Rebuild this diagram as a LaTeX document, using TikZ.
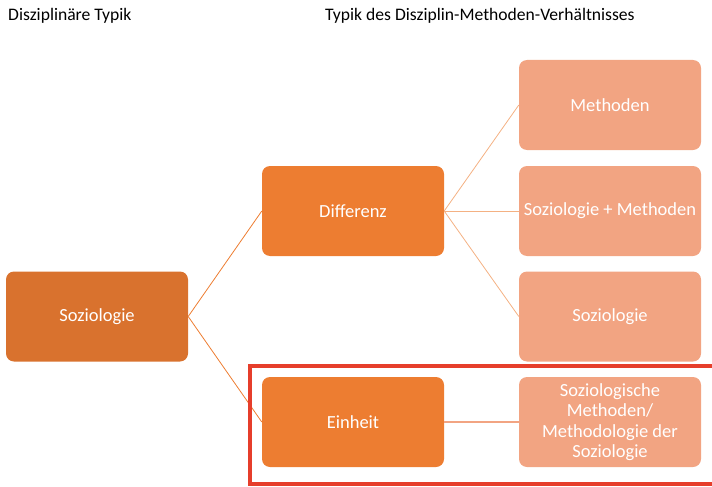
\documentclass[tikz,border=0pt]{standalone}
\usepackage{fontspec}
\setmainfont{Carlito}
\definecolor{darkor}{HTML}{D9722E}
\definecolor{midor}{HTML}{ED7D31}
\definecolor{lightor}{HTML}{F2A482}
\definecolor{lineor}{HTML}{F4B183}
\definecolor{redframe}{HTML}{E63E2B}
\begin{document}
\begin{tikzpicture}[x=1pt,y=-1pt,
  box/.style={rounded corners=8pt, minimum width=182pt, minimum height=90pt, text=white, font=\fontsize{18.5}{20.5}\selectfont, align=center, inner sep=1pt},
  lvlone/.style={box, fill=darkor},
  lvltwo/.style={box, fill=midor},
  lvlthree/.style={box, fill=lightor},
  title/.style={anchor=west, font=\fontsize{17.6}{20}\selectfont, inner sep=0pt},
  conA/.style={draw=midor, line width=0.8pt},
  conB/.style={draw=lineor, line width=0.8pt},
  conC/.style={draw=lightor, line width=1.4pt}]
\useasboundingbox (0,0) rectangle (712,487);
\node[title] (t1) at (8,16) {Disziplinäre Typik};
\node[title] (t2) at (325,16) {Typik des Disziplin-Methoden-Verhältnisses};
\node[lvlone] (soz) at (97,316.5) {Soziologie};
\node[lvltwo] (diff) at (353,211) {Differenz};
\node[lvltwo] (ein) at (353,422) {Einheit};
\node[lvlthree] (r1) at (610,105) {Methoden};
\node[lvlthree] (r2) at (610,211) {Soziologie + Methoden};
\node[lvlthree] (r3) at (610,316.5) {Soziologie};
\node[lvlthree] (r4) at (610,422) {Soziologische\\Methoden/\\Methodologie der\\Soziologie};
\draw[conA] (soz.east) -- (diff.west);
\draw[conA] (soz.east) -- (ein.west);
\draw[conB] (diff.east) -- (r1.west);
\draw[conB] (diff.east) -- (r2.west);
\draw[conB] (diff.east) -- (r3.west);
\draw[conC] (ein.east) -- (r4.west);
\coordinate (fa) at (250,366);
\coordinate (fb) at (718,484);
\draw[redframe, line width=4pt] (fa) rectangle (fb);
\end{tikzpicture}
\end{document}
